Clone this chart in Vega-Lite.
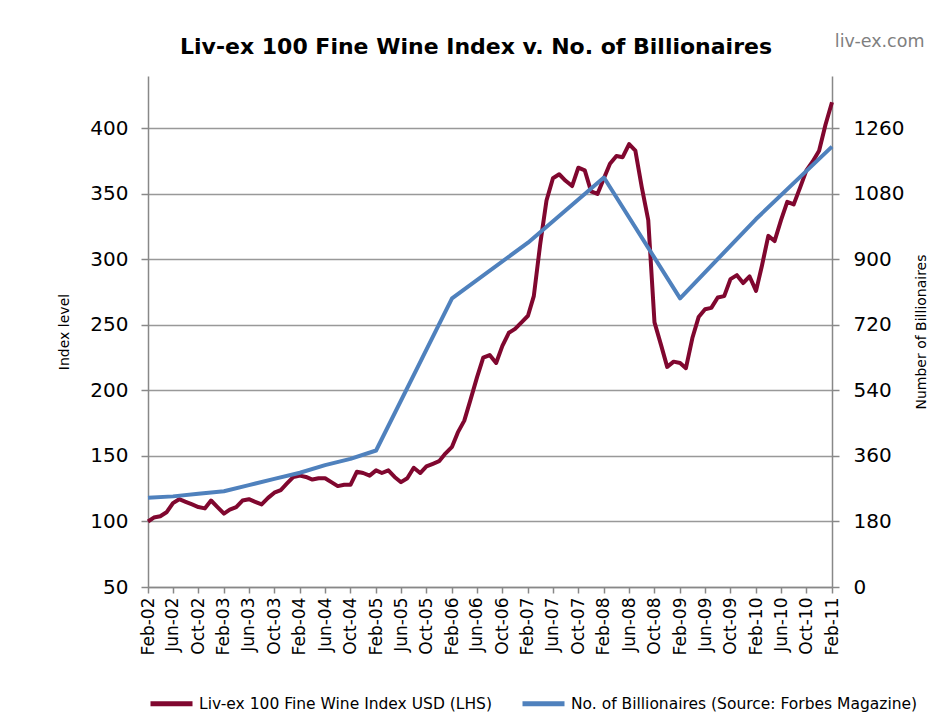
{
  "$schema": "https://vega.github.io/schema/vega-lite/v6.json",
  "width": 684,
  "height": 511,
  "autosize": {"type": "none"},
  "padding": {"left": 148, "top": 76, "right": 112, "bottom": 136},
  "background": "white",
  "title": {
    "text": "Liv-ex 100 Fine Wine Index v. No. of Billionaires",
    "font": "DejaVu Sans",
    "fontSize": 22,
    "fontWeight": "bold",
    "color": "#000000",
    "anchor": "middle",
    "frame": "group",
    "offset": -26,
    "dx": -14
  },
  "datasets": {
    "wine": [
      {"date": "2002-02-01", "series": "Liv-ex 100 Fine Wine Index USD (LHS)", "value": 100},
      {"date": "2002-03-01", "series": "Liv-ex 100 Fine Wine Index USD (LHS)", "value": 103},
      {"date": "2002-04-01", "series": "Liv-ex 100 Fine Wine Index USD (LHS)", "value": 104},
      {"date": "2002-05-01", "series": "Liv-ex 100 Fine Wine Index USD (LHS)", "value": 107},
      {"date": "2002-06-01", "series": "Liv-ex 100 Fine Wine Index USD (LHS)", "value": 114},
      {"date": "2002-07-01", "series": "Liv-ex 100 Fine Wine Index USD (LHS)", "value": 117},
      {"date": "2002-08-01", "series": "Liv-ex 100 Fine Wine Index USD (LHS)", "value": 115},
      {"date": "2002-09-01", "series": "Liv-ex 100 Fine Wine Index USD (LHS)", "value": 113},
      {"date": "2002-10-01", "series": "Liv-ex 100 Fine Wine Index USD (LHS)", "value": 111},
      {"date": "2002-11-01", "series": "Liv-ex 100 Fine Wine Index USD (LHS)", "value": 110},
      {"date": "2002-12-01", "series": "Liv-ex 100 Fine Wine Index USD (LHS)", "value": 116},
      {"date": "2003-01-01", "series": "Liv-ex 100 Fine Wine Index USD (LHS)", "value": 111},
      {"date": "2003-02-01", "series": "Liv-ex 100 Fine Wine Index USD (LHS)", "value": 106},
      {"date": "2003-03-01", "series": "Liv-ex 100 Fine Wine Index USD (LHS)", "value": 109},
      {"date": "2003-04-01", "series": "Liv-ex 100 Fine Wine Index USD (LHS)", "value": 111},
      {"date": "2003-05-01", "series": "Liv-ex 100 Fine Wine Index USD (LHS)", "value": 116},
      {"date": "2003-06-01", "series": "Liv-ex 100 Fine Wine Index USD (LHS)", "value": 117},
      {"date": "2003-07-01", "series": "Liv-ex 100 Fine Wine Index USD (LHS)", "value": 115},
      {"date": "2003-08-01", "series": "Liv-ex 100 Fine Wine Index USD (LHS)", "value": 113},
      {"date": "2003-09-01", "series": "Liv-ex 100 Fine Wine Index USD (LHS)", "value": 118},
      {"date": "2003-10-01", "series": "Liv-ex 100 Fine Wine Index USD (LHS)", "value": 122},
      {"date": "2003-11-01", "series": "Liv-ex 100 Fine Wine Index USD (LHS)", "value": 124},
      {"date": "2003-12-01", "series": "Liv-ex 100 Fine Wine Index USD (LHS)", "value": 129},
      {"date": "2004-01-01", "series": "Liv-ex 100 Fine Wine Index USD (LHS)", "value": 134},
      {"date": "2004-02-01", "series": "Liv-ex 100 Fine Wine Index USD (LHS)", "value": 135},
      {"date": "2004-03-01", "series": "Liv-ex 100 Fine Wine Index USD (LHS)", "value": 134},
      {"date": "2004-04-01", "series": "Liv-ex 100 Fine Wine Index USD (LHS)", "value": 132},
      {"date": "2004-05-01", "series": "Liv-ex 100 Fine Wine Index USD (LHS)", "value": 133},
      {"date": "2004-06-01", "series": "Liv-ex 100 Fine Wine Index USD (LHS)", "value": 133},
      {"date": "2004-07-01", "series": "Liv-ex 100 Fine Wine Index USD (LHS)", "value": 130},
      {"date": "2004-08-01", "series": "Liv-ex 100 Fine Wine Index USD (LHS)", "value": 127},
      {"date": "2004-09-01", "series": "Liv-ex 100 Fine Wine Index USD (LHS)", "value": 128},
      {"date": "2004-10-01", "series": "Liv-ex 100 Fine Wine Index USD (LHS)", "value": 128},
      {"date": "2004-11-01", "series": "Liv-ex 100 Fine Wine Index USD (LHS)", "value": 138},
      {"date": "2004-12-01", "series": "Liv-ex 100 Fine Wine Index USD (LHS)", "value": 137},
      {"date": "2005-01-01", "series": "Liv-ex 100 Fine Wine Index USD (LHS)", "value": 135},
      {"date": "2005-02-01", "series": "Liv-ex 100 Fine Wine Index USD (LHS)", "value": 139},
      {"date": "2005-03-01", "series": "Liv-ex 100 Fine Wine Index USD (LHS)", "value": 137},
      {"date": "2005-04-01", "series": "Liv-ex 100 Fine Wine Index USD (LHS)", "value": 139},
      {"date": "2005-05-01", "series": "Liv-ex 100 Fine Wine Index USD (LHS)", "value": 134},
      {"date": "2005-06-01", "series": "Liv-ex 100 Fine Wine Index USD (LHS)", "value": 130},
      {"date": "2005-07-01", "series": "Liv-ex 100 Fine Wine Index USD (LHS)", "value": 133},
      {"date": "2005-08-01", "series": "Liv-ex 100 Fine Wine Index USD (LHS)", "value": 141},
      {"date": "2005-09-01", "series": "Liv-ex 100 Fine Wine Index USD (LHS)", "value": 137},
      {"date": "2005-10-01", "series": "Liv-ex 100 Fine Wine Index USD (LHS)", "value": 142},
      {"date": "2005-11-01", "series": "Liv-ex 100 Fine Wine Index USD (LHS)", "value": 144},
      {"date": "2005-12-01", "series": "Liv-ex 100 Fine Wine Index USD (LHS)", "value": 146},
      {"date": "2006-01-01", "series": "Liv-ex 100 Fine Wine Index USD (LHS)", "value": 152},
      {"date": "2006-02-01", "series": "Liv-ex 100 Fine Wine Index USD (LHS)", "value": 157},
      {"date": "2006-03-01", "series": "Liv-ex 100 Fine Wine Index USD (LHS)", "value": 168},
      {"date": "2006-04-01", "series": "Liv-ex 100 Fine Wine Index USD (LHS)", "value": 177},
      {"date": "2006-05-01", "series": "Liv-ex 100 Fine Wine Index USD (LHS)", "value": 193},
      {"date": "2006-06-01", "series": "Liv-ex 100 Fine Wine Index USD (LHS)", "value": 210},
      {"date": "2006-07-01", "series": "Liv-ex 100 Fine Wine Index USD (LHS)", "value": 225},
      {"date": "2006-08-01", "series": "Liv-ex 100 Fine Wine Index USD (LHS)", "value": 227},
      {"date": "2006-09-01", "series": "Liv-ex 100 Fine Wine Index USD (LHS)", "value": 221},
      {"date": "2006-10-01", "series": "Liv-ex 100 Fine Wine Index USD (LHS)", "value": 234},
      {"date": "2006-11-01", "series": "Liv-ex 100 Fine Wine Index USD (LHS)", "value": 244},
      {"date": "2006-12-01", "series": "Liv-ex 100 Fine Wine Index USD (LHS)", "value": 247},
      {"date": "2007-01-01", "series": "Liv-ex 100 Fine Wine Index USD (LHS)", "value": 252},
      {"date": "2007-02-01", "series": "Liv-ex 100 Fine Wine Index USD (LHS)", "value": 257},
      {"date": "2007-03-01", "series": "Liv-ex 100 Fine Wine Index USD (LHS)", "value": 272},
      {"date": "2007-04-01", "series": "Liv-ex 100 Fine Wine Index USD (LHS)", "value": 312},
      {"date": "2007-05-01", "series": "Liv-ex 100 Fine Wine Index USD (LHS)", "value": 345},
      {"date": "2007-06-01", "series": "Liv-ex 100 Fine Wine Index USD (LHS)", "value": 362},
      {"date": "2007-07-01", "series": "Liv-ex 100 Fine Wine Index USD (LHS)", "value": 365},
      {"date": "2007-08-01", "series": "Liv-ex 100 Fine Wine Index USD (LHS)", "value": 360},
      {"date": "2007-09-01", "series": "Liv-ex 100 Fine Wine Index USD (LHS)", "value": 356},
      {"date": "2007-10-01", "series": "Liv-ex 100 Fine Wine Index USD (LHS)", "value": 370},
      {"date": "2007-11-01", "series": "Liv-ex 100 Fine Wine Index USD (LHS)", "value": 368},
      {"date": "2007-12-01", "series": "Liv-ex 100 Fine Wine Index USD (LHS)", "value": 352},
      {"date": "2008-01-01", "series": "Liv-ex 100 Fine Wine Index USD (LHS)", "value": 350},
      {"date": "2008-02-01", "series": "Liv-ex 100 Fine Wine Index USD (LHS)", "value": 362},
      {"date": "2008-03-01", "series": "Liv-ex 100 Fine Wine Index USD (LHS)", "value": 373},
      {"date": "2008-04-01", "series": "Liv-ex 100 Fine Wine Index USD (LHS)", "value": 379},
      {"date": "2008-05-01", "series": "Liv-ex 100 Fine Wine Index USD (LHS)", "value": 378},
      {"date": "2008-06-01", "series": "Liv-ex 100 Fine Wine Index USD (LHS)", "value": 388},
      {"date": "2008-07-01", "series": "Liv-ex 100 Fine Wine Index USD (LHS)", "value": 383},
      {"date": "2008-08-01", "series": "Liv-ex 100 Fine Wine Index USD (LHS)", "value": 355},
      {"date": "2008-09-01", "series": "Liv-ex 100 Fine Wine Index USD (LHS)", "value": 330},
      {"date": "2008-10-01", "series": "Liv-ex 100 Fine Wine Index USD (LHS)", "value": 252},
      {"date": "2008-11-01", "series": "Liv-ex 100 Fine Wine Index USD (LHS)", "value": 235},
      {"date": "2008-12-01", "series": "Liv-ex 100 Fine Wine Index USD (LHS)", "value": 218},
      {"date": "2009-01-01", "series": "Liv-ex 100 Fine Wine Index USD (LHS)", "value": 222},
      {"date": "2009-02-01", "series": "Liv-ex 100 Fine Wine Index USD (LHS)", "value": 221},
      {"date": "2009-03-01", "series": "Liv-ex 100 Fine Wine Index USD (LHS)", "value": 217},
      {"date": "2009-04-01", "series": "Liv-ex 100 Fine Wine Index USD (LHS)", "value": 240},
      {"date": "2009-05-01", "series": "Liv-ex 100 Fine Wine Index USD (LHS)", "value": 256},
      {"date": "2009-06-01", "series": "Liv-ex 100 Fine Wine Index USD (LHS)", "value": 262},
      {"date": "2009-07-01", "series": "Liv-ex 100 Fine Wine Index USD (LHS)", "value": 263},
      {"date": "2009-08-01", "series": "Liv-ex 100 Fine Wine Index USD (LHS)", "value": 271},
      {"date": "2009-09-01", "series": "Liv-ex 100 Fine Wine Index USD (LHS)", "value": 272},
      {"date": "2009-10-01", "series": "Liv-ex 100 Fine Wine Index USD (LHS)", "value": 285},
      {"date": "2009-11-01", "series": "Liv-ex 100 Fine Wine Index USD (LHS)", "value": 288},
      {"date": "2009-12-01", "series": "Liv-ex 100 Fine Wine Index USD (LHS)", "value": 282},
      {"date": "2010-01-01", "series": "Liv-ex 100 Fine Wine Index USD (LHS)", "value": 287},
      {"date": "2010-02-01", "series": "Liv-ex 100 Fine Wine Index USD (LHS)", "value": 276},
      {"date": "2010-03-01", "series": "Liv-ex 100 Fine Wine Index USD (LHS)", "value": 295},
      {"date": "2010-04-01", "series": "Liv-ex 100 Fine Wine Index USD (LHS)", "value": 318},
      {"date": "2010-05-01", "series": "Liv-ex 100 Fine Wine Index USD (LHS)", "value": 314},
      {"date": "2010-06-01", "series": "Liv-ex 100 Fine Wine Index USD (LHS)", "value": 330},
      {"date": "2010-07-01", "series": "Liv-ex 100 Fine Wine Index USD (LHS)", "value": 344},
      {"date": "2010-08-01", "series": "Liv-ex 100 Fine Wine Index USD (LHS)", "value": 342},
      {"date": "2010-09-01", "series": "Liv-ex 100 Fine Wine Index USD (LHS)", "value": 355},
      {"date": "2010-10-01", "series": "Liv-ex 100 Fine Wine Index USD (LHS)", "value": 368},
      {"date": "2010-11-01", "series": "Liv-ex 100 Fine Wine Index USD (LHS)", "value": 375},
      {"date": "2010-12-01", "series": "Liv-ex 100 Fine Wine Index USD (LHS)", "value": 383},
      {"date": "2011-01-01", "series": "Liv-ex 100 Fine Wine Index USD (LHS)", "value": 403},
      {"date": "2011-02-01", "series": "Liv-ex 100 Fine Wine Index USD (LHS)", "value": 420}
    ],
    "billionaires": [
      {"date": "2002-02-01", "series": "No. of Billionaires (Source: Forbes Magazine)", "value": 245},
      {"date": "2002-06-01", "series": "No. of Billionaires (Source: Forbes Magazine)", "value": 249},
      {"date": "2002-10-01", "series": "No. of Billionaires (Source: Forbes Magazine)", "value": 256},
      {"date": "2003-02-01", "series": "No. of Billionaires (Source: Forbes Magazine)", "value": 263},
      {"date": "2003-06-01", "series": "No. of Billionaires (Source: Forbes Magazine)", "value": 280},
      {"date": "2003-10-01", "series": "No. of Billionaires (Source: Forbes Magazine)", "value": 297},
      {"date": "2004-02-01", "series": "No. of Billionaires (Source: Forbes Magazine)", "value": 314},
      {"date": "2004-06-01", "series": "No. of Billionaires (Source: Forbes Magazine)", "value": 335},
      {"date": "2004-10-01", "series": "No. of Billionaires (Source: Forbes Magazine)", "value": 352},
      {"date": "2005-02-01", "series": "No. of Billionaires (Source: Forbes Magazine)", "value": 375},
      {"date": "2006-02-01", "series": "No. of Billionaires (Source: Forbes Magazine)", "value": 793},
      {"date": "2007-02-01", "series": "No. of Billionaires (Source: Forbes Magazine)", "value": 946},
      {"date": "2008-02-01", "series": "No. of Billionaires (Source: Forbes Magazine)", "value": 1125},
      {"date": "2009-02-01", "series": "No. of Billionaires (Source: Forbes Magazine)", "value": 793},
      {"date": "2010-02-01", "series": "No. of Billionaires (Source: Forbes Magazine)", "value": 1011},
      {"date": "2011-02-01", "series": "No. of Billionaires (Source: Forbes Magazine)", "value": 1210}
    ]
  },
  "layer": [
    {
      "data": {"name": "wine"},
      "mark": {"type": "line", "strokeWidth": 4, "strokeJoin": "round"},
      "encoding": {
        "x": {
          "field": "date",
          "type": "temporal",
          "scale": {
            "type": "utc",
            "nice": false,
            "domain": [
              {"year": 2002, "month": 2, "date": 1, "utc": true},
              {"year": 2011, "month": 2, "date": 1, "utc": true}
            ]
          },
          "axis": {
            "title": null,
            "format": "%b-%y",
            "labelAngle": -90,
            "labelFontSize": 17,
            "labelFont": "DejaVu Sans",
            "labelColor": "#000000",
            "labelOverlap": false,
            "labelFlush": false,
            "labelBound": false,
            "labelSeparation": 0,
            "labelPadding": 4,
            "tickSize": 6,
            "tickColor": "#888888",
            "tickWidth": 1.5,
            "domainColor": "#888888",
            "domainWidth": 1.5,
            "grid": false,
            "values": [
              {"year": 2002, "month": 2, "date": 1, "utc": true},
              {"year": 2002, "month": 6, "date": 1, "utc": true},
              {"year": 2002, "month": 10, "date": 1, "utc": true},
              {"year": 2003, "month": 2, "date": 1, "utc": true},
              {"year": 2003, "month": 6, "date": 1, "utc": true},
              {"year": 2003, "month": 10, "date": 1, "utc": true},
              {"year": 2004, "month": 2, "date": 1, "utc": true},
              {"year": 2004, "month": 6, "date": 1, "utc": true},
              {"year": 2004, "month": 10, "date": 1, "utc": true},
              {"year": 2005, "month": 2, "date": 1, "utc": true},
              {"year": 2005, "month": 6, "date": 1, "utc": true},
              {"year": 2005, "month": 10, "date": 1, "utc": true},
              {"year": 2006, "month": 2, "date": 1, "utc": true},
              {"year": 2006, "month": 6, "date": 1, "utc": true},
              {"year": 2006, "month": 10, "date": 1, "utc": true},
              {"year": 2007, "month": 2, "date": 1, "utc": true},
              {"year": 2007, "month": 6, "date": 1, "utc": true},
              {"year": 2007, "month": 10, "date": 1, "utc": true},
              {"year": 2008, "month": 2, "date": 1, "utc": true},
              {"year": 2008, "month": 6, "date": 1, "utc": true},
              {"year": 2008, "month": 10, "date": 1, "utc": true},
              {"year": 2009, "month": 2, "date": 1, "utc": true},
              {"year": 2009, "month": 6, "date": 1, "utc": true},
              {"year": 2009, "month": 10, "date": 1, "utc": true},
              {"year": 2010, "month": 2, "date": 1, "utc": true},
              {"year": 2010, "month": 6, "date": 1, "utc": true},
              {"year": 2010, "month": 10, "date": 1, "utc": true},
              {"year": 2011, "month": 2, "date": 1, "utc": true}
            ]
          }
        },
        "y": {
          "field": "value",
          "type": "quantitative",
          "scale": {"domain": [50, 440], "nice": false, "zero": false},
          "axis": {
            "orient": "left",
            "values": [50, 100, 150, 200, 250, 300, 350, 400],
            "title": "Index level",
            "titleFont": "DejaVu Sans",
            "titleFontSize": 14,
            "titleFontWeight": "normal",
            "titleColor": "#000000",
            "titlePadding": 18,
            "labelFont": "DejaVu Sans",
            "labelFontSize": 20,
            "labelColor": "#000000",
            "labelPadding": 13,
            "tickSize": 7,
            "tickColor": "#888888",
            "tickWidth": 1.5,
            "domainColor": "#888888",
            "domainWidth": 1.5,
            "grid": true,
            "gridColor": "#999999",
            "gridWidth": 1.5
          }
        },
        "color": {
          "field": "series",
          "type": "nominal",
          "scale": {
            "domain": ["Liv-ex 100 Fine Wine Index USD (LHS)", "No. of Billionaires (Source: Forbes Magazine)"],
            "range": ["#80072F", "#4F81BD"]
          },
          "legend": {
            "title": null,
            "orient": "bottom",
            "direction": "horizontal",
            "offset": 25,
            "symbolType": "stroke",
            "symbolSize": 1764,
            "symbolStrokeWidth": 5,
            "labelFont": "DejaVu Sans",
            "labelFontSize": 15.5,
            "labelColor": "#000000",
            "labelOffset": 4,
            "labelLimit": 0,
            "columnPadding": 20
          }
        }
      }
    },
    {
      "data": {"name": "billionaires"},
      "mark": {"type": "line", "strokeWidth": 4, "strokeJoin": "round"},
      "encoding": {
        "x": {
          "field": "date",
          "type": "temporal",
          "scale": {
            "type": "utc",
            "nice": false,
            "domain": [
              {"year": 2002, "month": 2, "date": 1, "utc": true},
              {"year": 2011, "month": 2, "date": 1, "utc": true}
            ]
          },
          "axis": {
            "title": null,
            "format": "%b-%y",
            "labelAngle": -90,
            "labelFontSize": 17,
            "labelFont": "DejaVu Sans",
            "labelColor": "#000000",
            "labelOverlap": false,
            "labelFlush": false,
            "labelBound": false,
            "labelSeparation": 0,
            "labelPadding": 4,
            "tickSize": 6,
            "tickColor": "#888888",
            "tickWidth": 1.5,
            "domainColor": "#888888",
            "domainWidth": 1.5,
            "grid": false,
            "values": [
              {"year": 2002, "month": 2, "date": 1, "utc": true},
              {"year": 2002, "month": 6, "date": 1, "utc": true},
              {"year": 2002, "month": 10, "date": 1, "utc": true},
              {"year": 2003, "month": 2, "date": 1, "utc": true},
              {"year": 2003, "month": 6, "date": 1, "utc": true},
              {"year": 2003, "month": 10, "date": 1, "utc": true},
              {"year": 2004, "month": 2, "date": 1, "utc": true},
              {"year": 2004, "month": 6, "date": 1, "utc": true},
              {"year": 2004, "month": 10, "date": 1, "utc": true},
              {"year": 2005, "month": 2, "date": 1, "utc": true},
              {"year": 2005, "month": 6, "date": 1, "utc": true},
              {"year": 2005, "month": 10, "date": 1, "utc": true},
              {"year": 2006, "month": 2, "date": 1, "utc": true},
              {"year": 2006, "month": 6, "date": 1, "utc": true},
              {"year": 2006, "month": 10, "date": 1, "utc": true},
              {"year": 2007, "month": 2, "date": 1, "utc": true},
              {"year": 2007, "month": 6, "date": 1, "utc": true},
              {"year": 2007, "month": 10, "date": 1, "utc": true},
              {"year": 2008, "month": 2, "date": 1, "utc": true},
              {"year": 2008, "month": 6, "date": 1, "utc": true},
              {"year": 2008, "month": 10, "date": 1, "utc": true},
              {"year": 2009, "month": 2, "date": 1, "utc": true},
              {"year": 2009, "month": 6, "date": 1, "utc": true},
              {"year": 2009, "month": 10, "date": 1, "utc": true},
              {"year": 2010, "month": 2, "date": 1, "utc": true},
              {"year": 2010, "month": 6, "date": 1, "utc": true},
              {"year": 2010, "month": 10, "date": 1, "utc": true},
              {"year": 2011, "month": 2, "date": 1, "utc": true}
            ]
          }
        },
        "y": {
          "field": "value",
          "type": "quantitative",
          "scale": {"domain": [0, 1404], "nice": false},
          "axis": {
            "orient": "right",
            "values": [0, 180, 360, 540, 720, 900, 1080, 1260],
            "format": "d",
            "title": "Number of Billionaires",
            "titleFont": "DejaVu Sans",
            "titleFontSize": 14,
            "titleFontWeight": "normal",
            "titleColor": "#000000",
            "titleAngle": -90,
            "titlePadding": 25,
            "labelFont": "DejaVu Sans",
            "labelFontSize": 20,
            "labelColor": "#000000",
            "labelPadding": 14,
            "tickSize": 7,
            "tickColor": "#888888",
            "tickWidth": 1.5,
            "domainColor": "#888888",
            "domainWidth": 1.5,
            "grid": false
          }
        },
        "color": {"field": "series", "type": "nominal"}
      }
    },
    {
      "data": {"values": [{"label": "liv-ex.com"}]},
      "mark": {"type": "text", "font": "DejaVu Sans", "fontSize": 17.5, "color": "#7F7F7F", "align": "center", "baseline": "middle", "clip": false},
      "encoding": {
        "x": {
          "datum": {"year": 2011, "month": 9, "date": 18, "utc": true},
          "type": "temporal",
          "scale": {
            "type": "utc",
            "nice": false,
            "domain": [
              {"year": 2002, "month": 2, "date": 1, "utc": true},
              {"year": 2011, "month": 2, "date": 1, "utc": true}
            ]
          },
          "axis": {
            "title": null,
            "format": "%b-%y",
            "labelAngle": -90,
            "labelFontSize": 17,
            "labelFont": "DejaVu Sans",
            "labelColor": "#000000",
            "labelOverlap": false,
            "labelFlush": false,
            "labelBound": false,
            "labelSeparation": 0,
            "labelPadding": 4,
            "tickSize": 6,
            "tickColor": "#888888",
            "tickWidth": 1.5,
            "domainColor": "#888888",
            "domainWidth": 1.5,
            "grid": false,
            "values": [
              {"year": 2002, "month": 2, "date": 1, "utc": true},
              {"year": 2002, "month": 6, "date": 1, "utc": true},
              {"year": 2002, "month": 10, "date": 1, "utc": true},
              {"year": 2003, "month": 2, "date": 1, "utc": true},
              {"year": 2003, "month": 6, "date": 1, "utc": true},
              {"year": 2003, "month": 10, "date": 1, "utc": true},
              {"year": 2004, "month": 2, "date": 1, "utc": true},
              {"year": 2004, "month": 6, "date": 1, "utc": true},
              {"year": 2004, "month": 10, "date": 1, "utc": true},
              {"year": 2005, "month": 2, "date": 1, "utc": true},
              {"year": 2005, "month": 6, "date": 1, "utc": true},
              {"year": 2005, "month": 10, "date": 1, "utc": true},
              {"year": 2006, "month": 2, "date": 1, "utc": true},
              {"year": 2006, "month": 6, "date": 1, "utc": true},
              {"year": 2006, "month": 10, "date": 1, "utc": true},
              {"year": 2007, "month": 2, "date": 1, "utc": true},
              {"year": 2007, "month": 6, "date": 1, "utc": true},
              {"year": 2007, "month": 10, "date": 1, "utc": true},
              {"year": 2008, "month": 2, "date": 1, "utc": true},
              {"year": 2008, "month": 6, "date": 1, "utc": true},
              {"year": 2008, "month": 10, "date": 1, "utc": true},
              {"year": 2009, "month": 2, "date": 1, "utc": true},
              {"year": 2009, "month": 6, "date": 1, "utc": true},
              {"year": 2009, "month": 10, "date": 1, "utc": true},
              {"year": 2010, "month": 2, "date": 1, "utc": true},
              {"year": 2010, "month": 6, "date": 1, "utc": true},
              {"year": 2010, "month": 10, "date": 1, "utc": true},
              {"year": 2011, "month": 2, "date": 1, "utc": true}
            ]
          }
        },
        "y": {"datum": 466, "type": "quantitative", "scale": {"domain": [50, 440], "nice": false, "zero": false}, "axis": null},
        "text": {"field": "label"}
      }
    }
  ],
  "resolve": {"scale": {"y": "independent"}},
  "config": {
    "view": {"stroke": null},
    "font": "DejaVu Sans",
    "axisX": {"labelOverlap": false}
  }
}
